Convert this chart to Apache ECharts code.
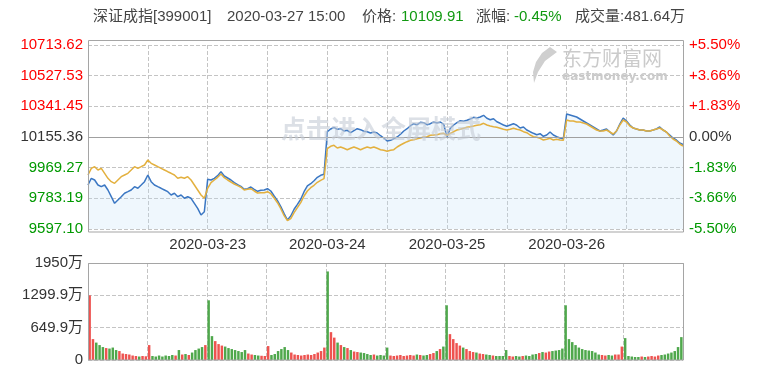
<!DOCTYPE html>
<html><head><meta charset="utf-8">
<script src="https://cdn.jsdelivr.net/npm/echarts@6/dist/echarts.min.js"></script>
<style>html,body{margin:0;padding:0;background:#fff}#c{width:770px;height:369px}</style>
</head><body><div id="c"></div>
<script>
const indexName = '深证成指[399001]';
const lastTime = '2020-03-27 15:00';
const tradeDays = ['2020-03-23','2020-03-24','2020-03-25','2020-03-26','2020-03-27'];
const samplesPerDay = 36;
const preClose = 10155.36;
const lastVolumeWan = 481.64;
const leftTickLabels = ['9597.10','9783.19','9969.27','10155.36','10341.45','10527.53','10713.62'];
const rightTickLabels = ['-5.50%','-3.66%','-1.83%','0.00%','+1.83%','+3.66%','+5.50%'];
const volTickLabels = ['0','649.9万','1299.9万','1950万'];
const volMax = 1949.8;
const openBarUp = [true, false, false, false, false];

const price_d1 = [9864.1,9904.8,9894.4,9864.1,9853.8,9864.1,9833.8,9793.1,9753.1,9773.1,9793.1,9813.8,9823.5,9833.8,9853.8,9844.1,9864.1,9884.2,9924.8,9884.2,9864.1,9853.8,9844.1,9833.8,9823.5,9803.4,9813.8,9793.1,9803.4,9783.4,9793.1,9783.4,9753.1,9722.7,9682.1,9702.1];
const price_d2 = [9898.7,9894.4,9904.8,9920.5,9944.8,9918.7,9906.6,9894.4,9878.1,9866.0,9856.2,9838.0,9841.7,9852.0,9838.0,9825.9,9832.0,9833.8,9841.7,9827.7,9797.4,9768.9,9732.5,9690.0,9651.8,9676.0,9716.7,9747.0,9777.4,9823.5,9858.1,9872.0,9890.2,9910.8,9923.0,9929.1];
const price_d3 = [10187.5,10203.9,10214.2,10202.1,10205.7,10191.8,10196.0,10181.5,10193.6,10205.7,10199.7,10190.0,10187.5,10179.6,10185.7,10179.6,10163.2,10149.3,10131.1,10135.3,10145.0,10155.4,10171.8,10191.8,10205.7,10224.0,10236.1,10230.0,10244.6,10242.1,10230.0,10236.1,10246.4,10240.3,10246.4,10232.4];
const price_d4 = [10157.2,10208.2,10228.2,10242.1,10254.3,10250.6,10256.7,10264.6,10274.9,10270.7,10276.7,10287.0,10268.8,10260.3,10266.4,10248.2,10238.5,10228.2,10220.3,10228.2,10236.1,10226.4,10210.0,10216.0,10197.8,10187.5,10177.8,10169.3,10175.4,10159.6,10167.5,10185.7,10167.5,10157.2,10149.3,10145.0];
const price_d5 = [10294.9,10288.9,10282.8,10276.7,10264.6,10252.5,10240.3,10228.2,10216.0,10203.9,10191.8,10197.8,10203.9,10185.7,10167.5,10191.8,10234.2,10270.7,10252.5,10228.2,10210.0,10203.9,10197.8,10197.8,10191.8,10191.8,10197.8,10203.9,10216.0,10197.8,10185.7,10167.5,10149.3,10137.2,10119.0,10109.91];

const lead_d1 = [9924.8,9965.4,9975.2,9955.1,9965.4,9935.1,9904.8,9884.2,9874.4,9894.4,9914.5,9924.8,9935.1,9955.1,9975.2,9965.4,9975.2,9985.5,10015.8,9995.8,9985.5,9975.2,9965.4,9955.1,9944.8,9935.1,9924.8,9904.8,9910.8,9904.8,9914.5,9894.4,9864.1,9833.8,9803.4,9783.4];
const lead_d2 = [9844.1,9878.1,9894.4,9910.8,9930.9,9908.4,9894.4,9882.3,9870.2,9859.9,9850.2,9833.8,9838.0,9841.7,9827.7,9815.6,9817.4,9817.4,9823.5,9811.3,9785.2,9756.7,9720.3,9677.8,9647.5,9659.6,9696.0,9726.4,9756.7,9797.4,9827.7,9847.7,9862.3,9880.5,9892.6,9902.4];
const lead_d3 = [10084.4,10099.0,10105.0,10088.6,10094.7,10086.8,10078.3,10086.8,10094.7,10086.8,10078.3,10086.8,10094.7,10088.6,10094.7,10086.8,10078.3,10074.7,10068.6,10074.7,10078.3,10094.7,10106.8,10117.2,10126.9,10135.3,10139.0,10145.0,10149.3,10155.4,10157.2,10165.7,10167.5,10169.3,10175.4,10177.8];
const lead_d4 = [10165.7,10177.8,10187.5,10197.8,10202.1,10208.2,10214.2,10217.9,10222.1,10226.4,10230.0,10238.5,10228.2,10222.1,10217.9,10214.2,10208.2,10202.1,10197.8,10202.1,10208.2,10202.1,10197.8,10187.5,10181.5,10167.5,10157.2,10153.5,10147.5,10137.2,10141.4,10147.5,10137.2,10141.4,10137.2,10135.3];
const lead_d5 = [10258.5,10252.5,10252.5,10246.4,10246.4,10240.3,10234.2,10222.1,10210.0,10197.8,10191.8,10191.8,10197.8,10185.7,10173.6,10191.8,10228.2,10258.5,10246.4,10222.1,10210.0,10203.9,10197.8,10197.8,10191.8,10191.8,10197.8,10203.9,10210.0,10197.8,10185.7,10161.4,10143.2,10131.1,10112.9,10100.8];

const vol_d1 = [1300,420,350,300,260,240,230,250,200,180,130,120,110,90,80,70,80,75,300,80,70,90,70,90,80,100,90,200,110,120,100,150,200,230,260,300];
const vol_d2 = [1200,480,380,320,290,270,240,220,200,180,160,200,130,110,100,90,85,80,280,100,120,180,220,260,200,150,110,100,90,100,110,100,120,150,180,250];
const vol_d3 = [1780,560,450,350,300,260,240,200,170,160,150,140,120,100,110,90,100,90,250,90,80,90,100,80,90,100,90,110,100,90,100,120,140,180,220,270];
const vol_d4 = [1100,520,420,340,290,250,220,180,160,150,130,120,110,100,90,80,80,80,200,80,70,80,70,80,90,80,110,120,140,160,150,170,180,190,200,230];
const vol_d5 = [1100,420,360,300,250,220,200,190,180,150,110,100,90,100,90,110,110,270,440,80,70,60,60,70,60,70,80,70,90,100,110,130,150,180,260,460];

const prices = [].concat(price_d1, price_d2, price_d3, price_d4, price_d5);
const leads = [].concat(lead_d1, lead_d2, lead_d3, lead_d4, lead_d5);
const vols = [].concat(vol_d1, vol_d2, vol_d3, vol_d4, vol_d5);
const categories = [];
tradeDays.forEach(d => { for (let k = 0; k < samplesPerDay; k++) categories.push(d + '#' + k); });

const RED = '#ff0000', GREEN = '#009900', GRAY = '#333333';
const GRID_LINE = '#c4c4c4';
const FONT = '"Liberation Sans", Arial, "Noto Sans CJK SC", sans-serif';
const yMin = parseFloat(leftTickLabels[0]);
const yMax = parseFloat(leftTickLabels[leftTickLabels.length - 1]);
const yInt = (yMax - yMin) / (leftTickLabels.length - 1);

function colorKey(v) {
  if (v > preClose + 0.01) return 'r';
  if (v < preClose - 0.01) return 'g';
  return 'n';
}
const rich = { r: { color: RED, fontSize: 15, fontFamily: FONT }, g: { color: GREEN, fontSize: 15, fontFamily: FONT }, n: { color: GRAY, fontSize: 15, fontFamily: FONT } };

const volData = vols.map((v, i) => {
  let up;
  if (i % samplesPerDay === 0) up = openBarUp[i / samplesPerDay];
  else up = prices[i] >= prices[i - 1];
  return { value: v, itemStyle: { color: up ? '#ee5350' : '#4fa84c' } };
});

const lastPrice = prices[prices.length - 1];
const chgPct = (lastPrice / preClose - 1) * 100;

function txt(x, y, s, font, fill, z) {
  return { type: 'text', x: x, y: y, z: z || 5, silent: true, style: { text: s, font: font, fill: fill, textVerticalAlign: 'middle', verticalAlign: 'middle' } };
}
const dashed = { show: true, lineStyle: { color: GRID_LINE, type: 'dashed', width: 1 } };

const chart = echarts.init(document.getElementById('c'), null, { renderer: 'canvas' });
chart.setOption({
  animation: false,
  backgroundColor: '#fff',
  grid: [
    { left: 88, right: 87, top: 45, height: 184 },
    { left: 88, right: 87, top: 263, height: 97 }
  ],
  xAxis: [
    {
      type: 'category', gridIndex: 0, data: categories, boundaryGap: false,
      axisLine: { show: false }, axisTick: { show: false },
      axisLabel: {
        interval: (i) => i > 0 && i % samplesPerDay === 0,
        formatter: (v, i) => tradeDays[i / samplesPerDay - 1],
        color: GRAY, fontSize: 15, fontFamily: FONT, margin: 8
      },
      splitLine: Object.assign({ interval: (i) => i % (samplesPerDay / 2) === 0 }, dashed)
    },
    {
      type: 'category', gridIndex: 1, data: categories, boundaryGap: true,
      axisLine: { show: false }, axisTick: { show: false }, axisLabel: { show: false },
      splitLine: Object.assign({ interval: (i) => i % (samplesPerDay / 2) === 0 }, dashed)
    }
  ],
  yAxis: [
    {
      type: 'value', gridIndex: 0, min: yMin, max: yMax, interval: yInt, position: 'left',
      axisLine: { show: false }, axisTick: { show: false },
      axisLabel: { margin: 5, formatter: (v, i) => '{' + colorKey(v) + '|' + leftTickLabels[i] + '}', rich: rich },
      splitLine: dashed
    },
    {
      type: 'value', gridIndex: 0, min: yMin, max: yMax, interval: yInt, position: 'right',
      axisLine: { show: false }, axisTick: { show: false },
      axisLabel: { margin: 6, formatter: (v, i) => '{' + colorKey(v) + '|' + rightTickLabels[i] + '}', rich: rich },
      splitLine: { show: false }
    },
    {
      type: 'value', gridIndex: 1, min: 0, max: volMax, interval: volMax / 3,
      axisLine: { show: false }, axisTick: { show: false },
      axisLabel: { margin: 5, color: GRAY, fontSize: 15, fontFamily: FONT, formatter: (v, i) => volTickLabels[i] },
      splitLine: dashed
    }
  ],
  series: [
    {
      type: 'line', xAxisIndex: 0, yAxisIndex: 0, data: prices, symbol: 'none',
      lineStyle: { color: '#3b77c3', width: 1.5 },
      areaStyle: { color: 'rgba(190,222,248,0.36)', origin: 'start' },
      markLine: { silent: true, symbol: 'none', label: { show: false },
        lineStyle: { color: '#a0a0a0', type: 'solid', width: 1 }, data: [{ yAxis: preClose }] },
      z: 2
    },
    {
      type: 'line', xAxisIndex: 0, yAxisIndex: 0, data: leads, symbol: 'none',
      lineStyle: { color: '#e3b03e', width: 1.5 }, z: 3
    },
    {
      type: 'bar', xAxisIndex: 1, yAxisIndex: 2, data: volData, barCategoryGap: '25%'
    }
  ],
  graphic: [
    { type: 'rect', z: 50, silent: true, shape: { x: 88.5, y: 40.5, width: 595, height: 191.5 }, style: { fill: 'none', stroke: '#a5a5a5', lineWidth: 1 } },
    { type: 'rect', z: 50, silent: true, shape: { x: 88.5, y: 263.5, width: 595, height: 96.5 }, style: { fill: 'none', stroke: '#a5a5a5', lineWidth: 1 } },
    txt(281, 128, '点击进入全屏模式', 'bold 25px "Noto Sans CJK SC"', 'rgba(196,204,214,0.6)', 60),
    { type: 'polygon', z: 1, silent: true, shape: { points: [[550,47],[542,53],[536,62],[533,72],[534,83],[538,72],[545,61],[557,52]] }, style: { fill: '#cfcfcf' } },
    txt(562, 58, '东方财富网', '20px "Noto Sans CJK SC"', '#cbcbcb', 1),
    txt(562, 77, 'eastmoney.com', 'bold 12px "DejaVu Sans"', '#cbcbcb', 1),
    txt(93, 17, indexName, '15px ' + FONT, '#444'),
    txt(227, 17, lastTime, '15px ' + FONT, '#444'),
    txt(362, 17, '价格:', '15px ' + FONT, '#444'),
    txt(401, 17, lastPrice.toFixed(2), '15px ' + FONT, chgPct < 0 ? '#119911' : RED),
    txt(476, 17, '涨幅:', '15px ' + FONT, '#444'),
    txt(514, 17, chgPct.toFixed(2) + '%', '15px ' + FONT, chgPct < 0 ? '#119911' : RED),
    txt(575, 17, '成交量:' + lastVolumeWan.toFixed(2) + '万', '15px ' + FONT, '#444')
  ]
});
</script></body></html>
